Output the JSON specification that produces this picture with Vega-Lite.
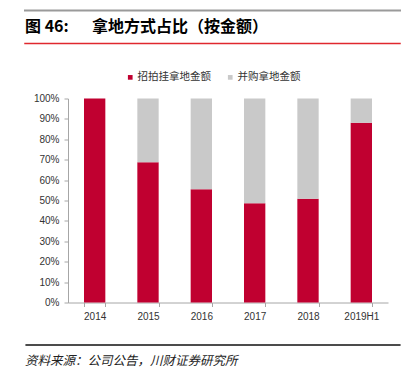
{
  "$schema": "https://vega.github.io/schema/vega-lite/v6.json",
  "padding": {"left": 24, "top": 3.5, "right": 0, "bottom": 0},
  "background": "white",
  "spacing": 22,
  "resolve": {"scale": {"color": "independent", "x": "independent", "y": "independent"}, "legend": {"color": "independent"}},
  "vconcat": [
    {
      "spacing": 0,
      "resolve": {"scale": {"x": "independent", "y": "independent"}},
      "vconcat": [
        {
          "width": 375,
          "height": 0.01,
          "view": {"stroke": "#9A9A9A", "strokeWidth": 2},
          "data": {"values": [{"blank": ""}]},
          "mark": {"type": "text"},
          "encoding": {"text": {"field": "blank"}}
        },
        {
          "width": 375,
          "height": 19,
          "view": {"stroke": null},
          "data": {"values": [{"title": "图 46:\u00a0\u3000\u00a0拿地方式占比（按金额）"}]},
          "mark": {"type": "text", "align": "left", "baseline": "middle", "font": "Noto Sans CJK SC", "fontSize": 16, "fontWeight": "bold", "color": "#000000"},
          "encoding": {
            "x": {"datum": 0, "type": "quantitative", "scale": {"domain": [0, 1]}, "axis": null},
            "y": {"datum": 0.5, "type": "quantitative", "scale": {"domain": [0, 1]}, "axis": null},
            "text": {"field": "title"}
          }
        },
        {
          "width": 375,
          "height": 0.01,
          "view": {"stroke": "#E0282E", "strokeWidth": 1.5},
          "data": {"values": [{"blank": ""}]},
          "mark": {"type": "text"},
          "encoding": {"text": {"field": "blank"}}
        }
      ]
    },
    {
      "spacing": 16,
      "resolve": {"scale": {"color": "independent", "x": "independent", "y": "independent"}, "legend": {"color": "independent"}},
      "vconcat": [
        {
          "width": 363,
          "height": 204,
          "view": {"stroke": null},
          "data": {"values": [
            {"year": "2014", "type": "招拍挂拿地金额", "value": 1.0},
            {"year": "2014", "type": "并购拿地金额", "value": 0.0},
            {"year": "2015", "type": "招拍挂拿地金额", "value": 0.687},
            {"year": "2015", "type": "并购拿地金额", "value": 0.313},
            {"year": "2016", "type": "招拍挂拿地金额", "value": 0.555},
            {"year": "2016", "type": "并购拿地金额", "value": 0.445},
            {"year": "2017", "type": "招拍挂拿地金额", "value": 0.486},
            {"year": "2017", "type": "并购拿地金额", "value": 0.514},
            {"year": "2018", "type": "招拍挂拿地金额", "value": 0.509},
            {"year": "2018", "type": "并购拿地金额", "value": 0.491},
            {"year": "2019H1", "type": "招拍挂拿地金额", "value": 0.881},
            {"year": "2019H1", "type": "并购拿地金额", "value": 0.119}
          ]},
          "mark": {"type": "bar"},
          "encoding": {
            "x": {
              "field": "year", "type": "nominal", "sort": null,
              "scale": {"range": [43, 363], "paddingInner": 0.6, "paddingOuter": 0.3},
              "axis": {
                "title": null, "labelAngle": 0, "tickBand": "extent", "tickSize": 4,
                "labelPadding": 5, "domainColor": "#A6A6A6", "tickColor": "#A6A6A6",
                "labelFont": "Liberation Sans", "labelFontSize": 10, "labelColor": "#333333"
              }
            },
            "y": {
              "field": "value", "type": "quantitative", "stack": "zero",
              "scale": {"domain": [0, 1], "nice": false},
              "axis": {
                "title": null, "offset": -43, "values": [0, 0.1, 0.2, 0.3, 0.4, 0.5, 0.6, 0.7, 0.8, 0.9, 1],
                "format": ".0%", "grid": false, "tickSize": 4, "labelPadding": 5,
                "domainColor": "#A6A6A6", "tickColor": "#A6A6A6",
                "labelFont": "Liberation Sans", "labelFontSize": 10, "labelColor": "#333333"
              }
            },
            "color": {
              "field": "type", "type": "nominal",
              "scale": {"domain": ["招拍挂拿地金额", "并购拿地金额"], "range": ["#C00030", "#C9C9C9"]},
              "legend": {
                "title": null, "orient": "none", "direction": "horizontal",
                "legendX": 100, "legendY": -26.5,
                "symbolType": "square", "symbolSize": 22, "symbolStrokeWidth": 0,
                "labelFont": "Noto Sans CJK SC", "labelFontSize": 10.5, "labelColor": "#333333",
                "labelOffset": 2, "columnPadding": 14, "padding": 0
              }
            },
            "order": {"field": "type", "sort": "descending"}
          }
        },
        {
          "spacing": 0,
          "resolve": {"scale": {"x": "independent", "y": "independent"}},
          "vconcat": [
            {
              "width": 375,
              "height": 0.01,
              "view": {"stroke": "#111111", "strokeWidth": 1},
              "data": {"values": [{"blank": ""}]},
              "mark": {"type": "text"},
              "encoding": {"text": {"field": "blank"}}
            },
            {
              "width": 375,
              "height": 21,
              "view": {"stroke": null},
              "data": {"values": [{"source": "资料来源：公司公告，川财证券研究所"}]},
              "mark": {"type": "text", "align": "left", "baseline": "middle", "font": "Noto Sans CJK SC", "fontSize": 12.5, "fontStyle": "italic", "color": "#222222"},
              "encoding": {
                "x": {"datum": 0, "type": "quantitative", "scale": {"domain": [0, 1]}, "axis": null},
                "y": {"datum": 0.5, "type": "quantitative", "scale": {"domain": [0, 1]}, "axis": null},
                "text": {"field": "source"}
              }
            }
          ]
        }
      ]
    }
  ]
}
